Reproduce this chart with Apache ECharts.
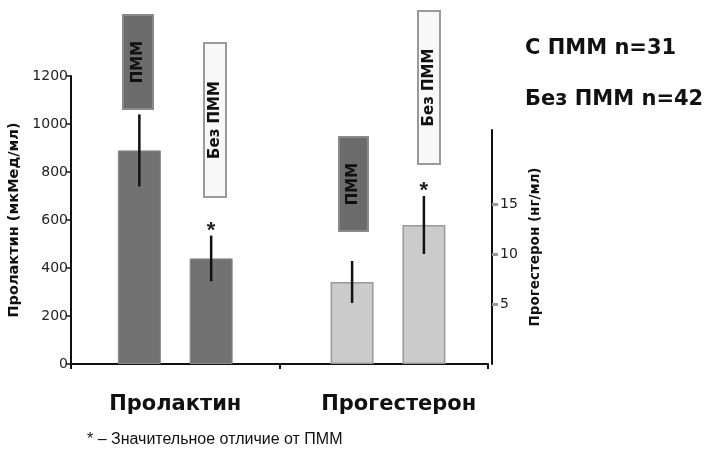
<!DOCTYPE html>
<html>
<head>
<meta charset="utf-8">
<script src="https://cdn.jsdelivr.net/npm/echarts@6/dist/echarts.min.js"></script>
<style>
html,body{margin:0;padding:0;background:#fff;}
#c{width:712px;height:449px;}
</style>
</head>
<body>
<div id="c"></div>
<script>
// ---- data ----
const categories = ['Пролактин', 'Прогестерон'];
const groupNames = ['ПММ', 'Без ПММ'];
const legendLines = ['С ПММ n=31', 'Без ПММ n=42'];
const prolactinMean = [890, 440];
const prolactinErr = [150, 95];
const progesteroneMean = [7.2, 12.9];
const progesteroneErr = [2.1, 2.9];
const significant = [false, true];
const progesteroneTicks = [5, 10, 15];
const footnote = '* – Значительное отличие от ПММ';

// ---- styles ----
const FONT = 'Liberation Sans, Arial, sans-serif';
const BOLD = 'DejaVu Sans, Liberation Sans, sans-serif';
const BAR_W = 43;
const GAP_RATIO = 0.67;
const darkFill = '#727272';
const lightFill = '#cbcbcb';

const chart = echarts.init(document.getElementById('c'), null, {renderer: 'canvas'});

const prolErr = prolactinMean.map((m, s) => [0, m - prolactinErr[s], m + prolactinErr[s], s, significant[s] ? 1 : 0]);
const progErr = progesteroneMean.map((m, s) => [1, m - progesteroneErr[s], m + progesteroneErr[s], s, significant[s] ? 1 : 0]);

function renderErr(params, api) {
  const cat = api.value(0);
  const lo = api.coord([cat, api.value(1)]);
  const hi = api.coord([cat, api.value(2)]);
  const step = BAR_W * (1 + GAP_RATIO);
  const x = lo[0] + (api.value(3) - 0.5) * step;
  const children = [{
    type: 'line',
    shape: {x1: x, y1: lo[1], x2: x, y2: hi[1]},
    style: {stroke: '#111', lineWidth: 2.5}
  }];
  if (api.value(4)) {
    children.push({
      type: 'text',
      style: {text: '*', x: x, y: hi[1] + 6, align: 'center', verticalAlign: 'bottom',
        font: 'bold 22px ' + FONT, fill: '#222'}
    });
  }
  return {type: 'group', children: children};
}

function vText(txt, cx, cy, size, color) {
  return {
    type: 'text', x: cx, y: cy, rotation: Math.PI / 2,
    style: {text: txt, align: 'center', verticalAlign: 'middle',
      font: 'bold ' + size + 'px ' + BOLD, fill: color}
  };
}
function box(x, y, w, h, fill, stroke, label, labelColor) {
  return [
    {type: 'rect', shape: {x: x, y: y, width: w, height: h},
      style: {fill: fill, stroke: stroke, lineWidth: 2}},
    vText(label, x + w / 2, y + h / 2, 15, labelColor)
  ];
}

const option = {
  backgroundColor: '#fff',
  animation: false,
  grid: [
    {left: 71, right: 224, top: 76, height: 288, containLabel: false, outerBoundsMode: 'none'},
    {left: 76, right: 220, top: 130, height: 234, containLabel: false, outerBoundsMode: 'none'}
  ],
  xAxis: [
    {type: 'category', gridIndex: 0, data: [
        {value: categories[0]},
        {value: categories[1], textStyle: {padding: [0, 0, 0, 30]}}
      ],
      axisLine: {lineStyle: {color: '#111', width: 2}},
      axisTick: {show: true, length: 5, lineStyle: {color: '#111', width: 2}},
      axisLabel: {fontFamily: BOLD, fontWeight: 'bold', fontSize: 21, color: '#111', margin: 30}
    },
    {type: 'category', gridIndex: 1, data: categories, show: false}
  ],
  yAxis: [
    {type: 'value', gridIndex: 0, min: 0, max: 1200, interval: 200,
      name: 'Пролактин (мкМед/мл)', nameLocation: 'middle', nameRotate: 90, nameGap: 40,
      nameTextStyle: {fontFamily: BOLD, fontWeight: 'bold', fontSize: 14.5, color: '#111'},
      axisLine: {show: true, lineStyle: {color: '#111', width: 2}},
      axisTick: {show: true, length: 5, lineStyle: {color: '#111', width: 1.5}},
      axisLabel: {fontFamily: 'DejaVu Sans', fontSize: 14, color: '#222', margin: 3,
        formatter: function (v) { return String(v); }},
      splitLine: {show: false}
    },
    {type: 'value', gridIndex: 1, position: 'right', min: -1, max: 22.4, startValue: -1,
      name: 'Прогестерон (нг/мл)', nameLocation: 'middle', nameRotate: 90, nameGap: 35,
      nameTextStyle: {fontFamily: BOLD, fontWeight: 'bold', fontSize: 13.5, color: '#111'},
      axisLine: {show: true, lineStyle: {color: '#111', width: 2}},
      axisTick: {show: true, length: 6, customValues: progesteroneTicks, lineStyle: {color: '#999', width: 3}},
      axisLabel: {fontFamily: 'DejaVu Sans', fontSize: 14, color: '#222', margin: 8, customValues: progesteroneTicks},
      splitLine: {show: false}
    }
  ],
  series: [
    {name: groupNames[0], type: 'bar', xAxisIndex: 0, yAxisIndex: 0,
      data: [prolactinMean[0], '-'], barWidth: BAR_W, barGap: (GAP_RATIO * 100) + '%',
      itemStyle: {color: darkFill, borderColor: '#8a8a8a', borderWidth: 1}},
    {name: groupNames[1], type: 'bar', xAxisIndex: 0, yAxisIndex: 0,
      data: [prolactinMean[1], '-'], barWidth: BAR_W, barGap: (GAP_RATIO * 100) + '%',
      itemStyle: {color: darkFill, borderColor: '#8a8a8a', borderWidth: 1}},
    {name: groupNames[0], type: 'bar', xAxisIndex: 1, yAxisIndex: 1,
      data: ['-', progesteroneMean[0]], barWidth: BAR_W, barGap: (GAP_RATIO * 100) + '%',
      itemStyle: {color: lightFill, borderColor: '#999', borderWidth: 1.5}},
    {name: groupNames[1], type: 'bar', xAxisIndex: 1, yAxisIndex: 1,
      data: ['-', progesteroneMean[1]], barWidth: BAR_W, barGap: (GAP_RATIO * 100) + '%',
      itemStyle: {color: lightFill, borderColor: '#999', borderWidth: 1.5}},
    {type: 'custom', xAxisIndex: 0, yAxisIndex: 0, data: prolErr, renderItem: renderErr, z: 5},
    {type: 'custom', xAxisIndex: 1, yAxisIndex: 1, data: progErr, renderItem: renderErr, z: 5}
  ],
  graphic: [].concat(
    box(123, 15, 30, 94, '#6b6b6b', '#8a8a8a', groupNames[0], '#111'),
    box(204, 43, 22, 154, '#f8f8f8', '#9a9a9a', groupNames[1], '#111'),
    box(339, 137, 29, 94, '#6b6b6b', '#8a8a8a', groupNames[0], '#111'),
    box(418, 11, 22, 153, '#f8f8f8', '#9a9a9a', groupNames[1], '#111'),
    [
      {type: 'text', x: 525, y: 49, style: {text: legendLines[0], verticalAlign: 'middle',
        font: 'bold 21px ' + BOLD, fill: '#111'}},
      {type: 'text', x: 525, y: 100, style: {text: legendLines[1], verticalAlign: 'middle',
        font: 'bold 21px ' + BOLD, fill: '#111'}},
      {type: 'text', x: 87, y: 440, style: {text: footnote, verticalAlign: 'middle',
        font: '16px ' + FONT, fill: '#111'}}
    ]
  )
};
chart.setOption(option);
</script>
</body>
</html>
